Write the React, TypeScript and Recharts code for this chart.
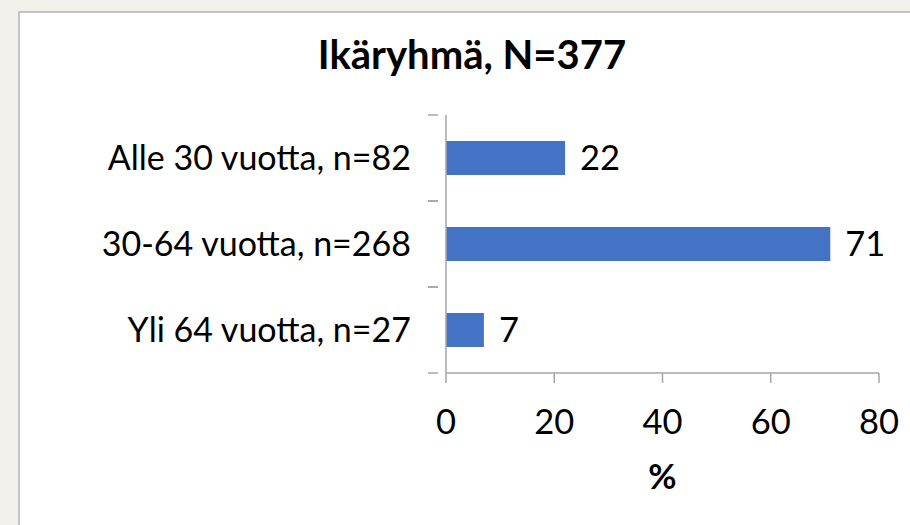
import React from "react";
import { BarChart, Bar, XAxis, YAxis, LabelList, Label } from "recharts";

const categories = ["Alle 30 vuotta, n=82", "30-64 vuotta, n=268", "Yli 64 vuotta, n=27"];
const values = [22, 71, 7];
const xTicks = [0, 20, 40, 60, 80];

const data = categories.map((name, i) => ({ name, value: values[i] }));

const FONT = "Lato, 'Open Sans', sans-serif";
const AXIS = "#a6a6a6";
const BAND = 86;

const YTick = (props: any) => {
  const { x, y, payload } = props;
  return (
    <g>
      <line x1={x - 10} x2={x} y1={y - BAND / 2} y2={y - BAND / 2} stroke={AXIS} strokeWidth={1.5} />
      <line x1={x - 10} x2={x} y1={y + BAND / 2} y2={y + BAND / 2} stroke={AXIS} strokeWidth={1.5} />
      <text x={x - 27} y={y} dy="0.36em" textAnchor="end" fontSize={34} fontFamily={FONT} fill="#000">
        {payload.value}
      </text>
    </g>
  );
};

export default function App() {
  return (
    <div style={{ position: "absolute", left: 0, top: 0, width: 910, height: 525, background: "#f1f0eb", overflow: "hidden" }}>
      <div
        style={{
          position: "absolute",
          left: 18,
          top: 11,
          width: 900,
          height: 520,
          background: "#fff",
          borderLeft: "2px solid #c4c4c4",
          borderTop: "2px solid #c4c4c4",
        }}
      />
      <div
        style={{
          position: "absolute",
          left: 0,
          width: 944,
          top: 31,
          textAlign: "center",
          fontFamily: FONT,
          fontWeight: 700,
          fontSize: 40,
          lineHeight: "46px",
        }}
      >
        Ikäryhmä, N=377
      </div>
      <div style={{ position: "absolute", left: 0, top: 0 }}>
        <BarChart
          width={910}
          height={525}
          data={data}
          layout="vertical"
          margin={{ top: 115, right: 31, bottom: 0, left: 0 }}
          barSize={34}
        >
          <XAxis
            type="number"
            domain={[0, 80]}
            ticks={xTicks}
            height={152}
            tickSize={10}
            tickMargin={27}
            stroke={AXIS}
            strokeWidth={1.5}
            tick={{ fill: "#000", fontSize: 34.5, fontFamily: FONT }}
          >
            <Label
              value="%"
              position="insideBottom"
              offset={36}
              style={{ fill: "#000", fontSize: 34.5, fontWeight: 700, fontFamily: FONT }}
            />
          </XAxis>
          <YAxis
            type="category"
            dataKey="name"
            width={446}
            stroke={AXIS}
            strokeWidth={1.5}
            tickLine={false}
            tick={<YTick />}
          />
          <Bar dataKey="value" fill="#4472c4" isAnimationActive={false}>
            <LabelList dataKey="value" position="right" offset={15} fill="#000" fontSize={34.5} fontFamily={FONT} />
          </Bar>
        </BarChart>
      </div>
    </div>
  );
}
